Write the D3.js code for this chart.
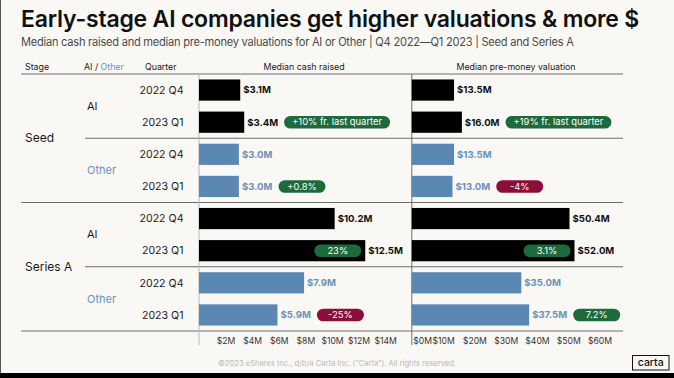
<!DOCTYPE html>
<html>
<head>
<meta charset="utf-8">
<script src="https://cdn.jsdelivr.net/npm/d3@7"></script>
<style>
  html, body { margin: 0; padding: 0; background: #faf8f4; }
  svg { display: block; font-family: Inter, "Noto Sans", sans-serif; }
</style>
</head>
<body>
<svg id="chart" width="674" height="378"></svg>
<script>
// ---------- data ----------
const stages = ["Seed", "Series A"];
const groups = ["AI", "Other"];
const quarters = ["2022 Q4", "2023 Q1"];
// rows: Seed-AI-Q4, Seed-AI-Q1, Seed-Other-Q4, Seed-Other-Q1, SeriesA-AI-Q4, ...
const cashRaised = [3.1, 3.4, 3.0, 3.0, 10.2, 12.5, 7.9, 5.9];
const preMoney = [13.5, 16.0, 13.5, 13.0, 50.4, 52.0, 35.0, 37.5];
const cashChange = [null, "+10% fr. last quarter", null, "+0.8%", null, "23%", null, "-25%"];
const preMoneyChange = [null, "+19% fr. last quarter", null, "-4%", null, "3.1%", null, "7.2%"];
const cashTicks = [2, 4, 6, 8, 10, 12, 14];
const preMoneyTicks = [0, 10, 20, 30, 40, 50, 60];

(function () {
// ---------- styles ----------
const C = {
  bg: "#faf8f4", ai: "#000000", other: "#5b87b3", otherText: "#6a92ba",
  green: "#1d6b3c", red: "#8a0f38", line: "#6e6e6e", lightLine: "#b9b9b9",
  text: "#1a1a1a", sub: "#4a4a4a", foot: "#b8b8b8"
};

const svg = d3.select("#chart");
svg.append("rect").attr("width", 674).attr("height", 378).attr("fill", C.bg);

const rows = d3.range(cashRaised.length).map(i => ({
  i,
  stage: stages[Math.floor(i / 4)],
  group: groups[Math.floor(i / 2) % 2],
  quarter: quarters[i % 2],
  cash: cashRaised[i], val: preMoney[i],
  cashChange: cashChange[i], valChange: preMoneyChange[i]
}));

const y = d3.scaleBand().domain(d3.range(rows.length)).range([74, 331])
  .paddingInner(0.34).paddingOuter(0.17);
const step = y.step();
const xCash = d3.scaleLinear().domain([0, 16]).range([199, 411.8]);
const xVal = d3.scaleLinear().domain([0, 67.5]).range([411.8, 623]);

// title
svg.append("text").attr("x", 21).attr("y", 27)
  .attr("font-size", 23).attr("font-weight", 600).attr("fill", "#111")
  .attr("letter-spacing", -0.2)
  .text("Early-stage AI companies get higher valuations & more $");
svg.append("text").attr("x", 21).attr("y", 46)
  .attr("font-size", 11.1).attr("fill", C.sub).attr("letter-spacing", -0.25)
  .text("Median cash raised and median pre-money valuations for AI or Other |  Q4 2022\u2014Q1 2023  | Seed and Series A");

// column headers
const hy = 69.5;
const hfs = 8.8;
svg.append("text").attr("x", 25).attr("y", hy).attr("font-size", hfs).attr("fill", C.text).text("Stage");
const ho = svg.append("text").attr("x", 84).attr("y", hy).attr("font-size", hfs).attr("fill", C.text);
ho.append("tspan").text("AI / ");
ho.append("tspan").attr("fill", C.otherText).text("Other");
svg.append("text").attr("x", 145).attr("y", hy).attr("font-size", hfs).attr("fill", C.text).text("Quarter");
svg.append("text").attr("x", 304).attr("y", hy).attr("font-size", hfs).attr("fill", C.text)
  .attr("text-anchor", "middle").text("Median cash raised");
svg.append("text").attr("x", 516).attr("y", hy).attr("font-size", hfs).attr("fill", C.text)
  .attr("text-anchor", "middle").text("Median pre-money valuation");

// grid lines
const yTop = y.range()[0], yBot = y.range()[1];
const hline = (yy, x1, col) => svg.append("line").attr("x1", x1).attr("x2", 623)
  .attr("y1", yy).attr("y2", yy).attr("stroke", col).attr("stroke-width", 1);
hline(yTop, 21, C.line);
hline(yTop + step * 4, 21, C.line);
hline(yBot, 21, C.line);
hline(yTop + step * 2, 85, C.line);
hline(yTop + step * 6, 85, C.line);
svg.append("line").attr("x1", xCash(0)).attr("x2", xCash(0)).attr("y1", yTop).attr("y2", 345)
  .attr("stroke", C.lightLine);
svg.append("line").attr("x1", xVal(0)).attr("x2", xVal(0)).attr("y1", yTop).attr("y2", 345)
  .attr("stroke", C.line);

// left labels
stages.forEach((s, k) => {
  svg.append("text").attr("x", 25).attr("y", yTop + step * (4 * k + 2)).attr("dy", "0.35em")
    .attr("font-size", 12).attr("fill", C.text).text(s);
  groups.forEach((g, j) => {
    svg.append("text").attr("x", 87).attr("y", yTop + step * (4 * k + 2 * j + 1)).attr("dy", "0.35em")
      .attr("font-size", 11).attr("fill", g === "AI" ? C.text : C.otherText).text(g);
  });
});
svg.selectAll("text.q").data(rows).join("text").attr("class", "q")
  .attr("x", 183.5).attr("y", d => y(d.i) + y.bandwidth() / 2).attr("dy", "0.35em")
  .attr("text-anchor", "end").attr("font-size", 10.6).attr("fill", C.text).text(d => d.quarter);

// panels
function panel(x, key, chKey, maxX) {
  const g = svg.append("g");
  g.selectAll("rect.bar").data(rows).join("rect").attr("class", "bar")
    .attr("x", x(0)).attr("y", d => y(d.i))
    .attr("width", d => x(d[key]) - x(0)).attr("height", y.bandwidth())
    .attr("fill", d => d.group === "AI" ? C.ai : C.other);
  const labels = g.selectAll("text.val").data(rows).join("text").attr("class", "val")
    .attr("x", d => x(d[key]) + 3).attr("y", d => y(d.i) + y.bandwidth() / 2).attr("dy", "0.35em")
    .attr("font-size", 9.6).attr("font-weight", 700)
    .attr("fill", d => d.group === "AI" ? "#111" : C.otherText)
    .text(d => "$" + d[key].toFixed(1) + "M");
  labels.each(function (d) {
    if (!d[chKey]) return;
    const lw = this.getComputedTextLength();
    const txt = d[chKey];
    const tmp = g.append("text").attr("font-size", 9.4).text(txt);
    const tw = tmp.node().getComputedTextLength();
    tmp.remove();
    const pw = Math.max(47, tw + 16), ph = 12.6;
    let px = x(d[key]) + 3 + lw + 6;
    if (px + pw > maxX) px = x(d[key]) - 4 - pw;
    const cy = y(d.i) + y.bandwidth() / 2;
    const neg = txt.trim().startsWith("-");
    g.append("rect").attr("x", px).attr("y", cy - ph / 2).attr("width", pw).attr("height", ph)
      .attr("rx", ph / 2).attr("fill", neg ? C.red : C.green);
    g.append("text").attr("x", px + pw / 2).attr("y", cy).attr("dy", "0.35em")
      .attr("text-anchor", "middle").attr("font-size", 9.4).attr("fill", "#fff").text(txt);
  });
}
panel(xCash, "cash", "cashChange", xCash.range()[1]);
panel(xVal, "val", "valChange", xVal.range()[1]);

// axes
const axCash = svg.append("g").attr("transform", `translate(0,${yBot + 4})`)
  .call(d3.axisBottom(xCash).tickValues(cashTicks).tickSize(0).tickFormat(d => "$" + d + "M"));
const axVal = svg.append("g").attr("transform", `translate(0,${yBot + 4})`)
  .call(d3.axisBottom(xVal).tickValues(preMoneyTicks).tickSize(0).tickFormat(d => "$" + d + "M"));
[axCash, axVal].forEach(a => {
  a.select(".domain").remove();
  a.selectAll("text").attr("font-family", "Inter, sans-serif").attr("font-size", 8.6)
    .attr("fill", "#333");
});
axVal.selectAll(".tick").filter(d => d === 0).select("text")
  .attr("text-anchor", "start").attr("x", 1);

// footer
svg.append("text").attr("x", 337).attr("y", 366).attr("text-anchor", "middle")
  .attr("font-size", 7.6).attr("fill", C.foot)
  .text("\u00a92023 eShares Inc., d/b/a Carta Inc. (\u201cCarta\u201d). All rights reserved.");
svg.append("rect").attr("x", 632.5).attr("y", 355.5).attr("width", 36.5).attr("height", 14.5)
  .attr("fill", "none").attr("stroke", "#111").attr("stroke-width", 1);
svg.append("text").attr("x", 650.7).attr("y", 362.5).attr("dy", "0.35em").attr("text-anchor", "middle")
  .attr("font-size", 10.5).attr("font-weight", 500).attr("fill", "#111").text("carta");

// frame
svg.append("line").attr("x1", 0.5).attr("x2", 0.5).attr("y1", 0).attr("y2", 373)
  .attr("stroke", "#555").attr("stroke-width", 1);
svg.append("rect").attr("x", 0).attr("y", 373).attr("width", 674).attr("height", 5).attr("fill", "#000");
})();
</script>
</body>
</html>
